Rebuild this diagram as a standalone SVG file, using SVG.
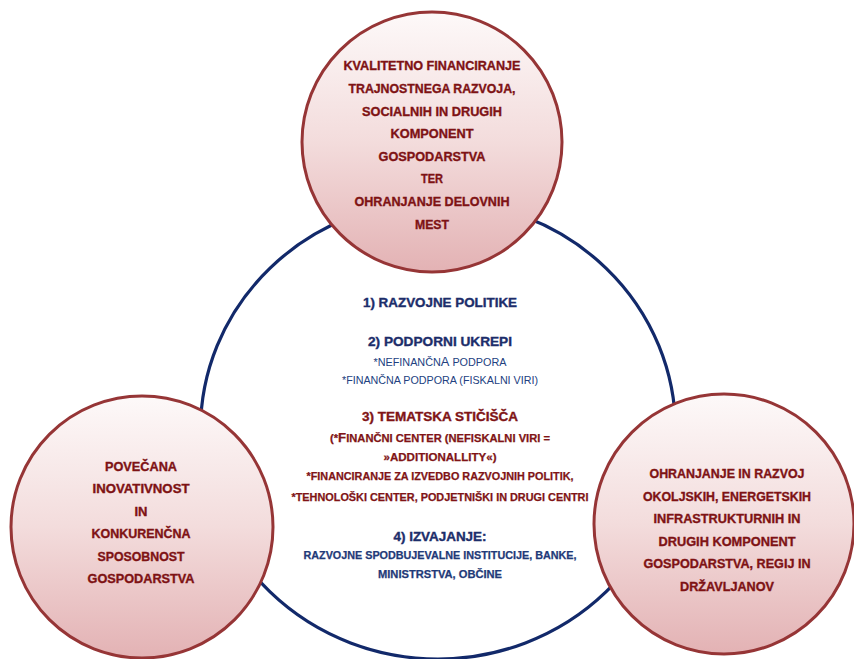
<svg xmlns="http://www.w3.org/2000/svg" width="854" height="659" viewBox="0 0 854 659">
<defs>
<linearGradient id="pink" x1="0" y1="0" x2="0" y2="1">
<stop offset="0" stop-color="#fdf9f9"/>
<stop offset="0.5" stop-color="#f3dcdc"/>
<stop offset="1" stop-color="#e3b2b4"/>
</linearGradient>
</defs>
<style>
.bub{fill:url(#pink);stroke:#963536;stroke-width:3}
.ring{fill:none;stroke:#12296a;stroke-width:3.2}
text{font-family:"Liberation Sans",Arial,sans-serif;text-anchor:middle}
.rd{fill:#7e1214;stroke:#7e1214;stroke-width:0.35;font-weight:bold;font-size:12.5px}
.bh{fill:#1c2d6a;stroke:#1c2d6a;stroke-width:0.35;font-weight:bold;font-size:12.5px}
.bs{fill:#22417f;font-size:10.5px}
.bb{fill:#1f3a78;stroke:#1f3a78;stroke-width:0.25;font-weight:bold;font-size:10.5px}
.rs{fill:#801416;stroke:#801416;stroke-width:0.25;font-weight:bold;font-size:11px}
</style>
<rect width="854" height="659" fill="#ffffff"/>
<g id="connectors">
<ellipse class="ring" cx="438" cy="430" rx="237.5" ry="229"/>
</g>
<g id="node-top">
<circle class="bub" cx="432" cy="142" r="130"/>
<text class="rd" x="432" y="70" textLength="177" lengthAdjust="spacingAndGlyphs">KVALITETNO FINANCIRANJE</text>
<text class="rd" x="432" y="92.5" textLength="167" lengthAdjust="spacingAndGlyphs">TRAJNOSTNEGA RAZVOJA,</text>
<text class="rd" x="432" y="116" textLength="140" lengthAdjust="spacingAndGlyphs">SOCIALNIH IN DRUGIH</text>
<text class="rd" x="432" y="137.5" textLength="83" lengthAdjust="spacingAndGlyphs">KOMPONENT</text>
<text class="rd" x="432" y="160.5" textLength="107" lengthAdjust="spacingAndGlyphs">GOSPODARSTVA</text>
<text class="rd" x="432" y="182.5" textLength="22" lengthAdjust="spacingAndGlyphs">TER</text>
<text class="rd" x="432" y="205.5" textLength="155" lengthAdjust="spacingAndGlyphs">OHRANJANJE DELOVNIH</text>
<text class="rd" x="432" y="228.5" textLength="34" lengthAdjust="spacingAndGlyphs">MEST</text>
</g>
<g id="node-left">
<circle class="bub" cx="142" cy="527" r="131"/>
<text class="rd" x="141" y="470.5" textLength="72" lengthAdjust="spacingAndGlyphs">POVEČANA</text>
<text class="rd" x="141" y="492.5" textLength="97" lengthAdjust="spacingAndGlyphs">INOVATIVNOST</text>
<text class="rd" x="141" y="515.5" textLength="13" lengthAdjust="spacingAndGlyphs">IN</text>
<text class="rd" x="141" y="537.5" textLength="99" lengthAdjust="spacingAndGlyphs">KONKURENČNA</text>
<text class="rd" x="141" y="560.5" textLength="87" lengthAdjust="spacingAndGlyphs">SPOSOBNOST</text>
<text class="rd" x="141" y="582.5" textLength="107" lengthAdjust="spacingAndGlyphs">GOSPODARSTVA</text>
</g>
<g id="node-right">
<circle class="bub" cx="724" cy="524" r="130"/>
<text class="rd" x="727" y="477.5" textLength="155" lengthAdjust="spacingAndGlyphs">OHRANJANJE IN RAZVOJ</text>
<text class="rd" x="727" y="500.5" textLength="168" lengthAdjust="spacingAndGlyphs">OKOLJSKIH, ENERGETSKIH</text>
<text class="rd" x="727" y="522.5" textLength="147" lengthAdjust="spacingAndGlyphs">INFRASTRUKTURNIH IN</text>
<text class="rd" x="727" y="545.5" textLength="137" lengthAdjust="spacingAndGlyphs">DRUGIH KOMPONENT</text>
<text class="rd" x="727" y="567.5" textLength="167" lengthAdjust="spacingAndGlyphs">GOSPODARSTVA, REGIJ IN</text>
<text class="rd" x="727" y="590.5" textLength="94" lengthAdjust="spacingAndGlyphs">DRŽAVLJANOV</text>
</g>
<g id="node-center">
<text class="bh" x="440" y="306.5" textLength="154" lengthAdjust="spacingAndGlyphs">1) RAZVOJNE POLITIKE</text>
<text class="bh" x="440" y="346" textLength="144" lengthAdjust="spacingAndGlyphs">2) PODPORNI UKREPI</text>
<text class="bs" x="440" y="366" textLength="133" lengthAdjust="spacingAndGlyphs">*NEFINANČN<tspan font-size="12.5px">A</tspan> PODPORA</text>
<text class="bs" x="440" y="383.5" textLength="196" lengthAdjust="spacingAndGlyphs">*FINANČNA PODPORA (FISKALNI VIRI)</text>
<text class="bh" x="440" y="421" style="fill:#801416;stroke:#801416" textLength="156" lengthAdjust="spacingAndGlyphs">3) TEMATSKA STIČIŠČA</text>
<text class="rs" x="440" y="442" textLength="220" lengthAdjust="spacingAndGlyphs">(*<tspan font-size="13px">F</tspan>INANČNI CENTER (NEFISKALNI VIRI =</text>
<text class="rs" x="440" y="461" textLength="113" lengthAdjust="spacingAndGlyphs">»ADDITIONALLITY«)</text>
<text class="rs" x="440" y="479.5" textLength="267" lengthAdjust="spacingAndGlyphs">*FINANCIRANJE ZA IZVEDBO RAZVOJNIH POLITIK,</text>
<text class="rs" x="440" y="500.5" textLength="297" lengthAdjust="spacingAndGlyphs">*TEHNOLOŠKI CENTER, PODJETNIŠKI IN DRUGI CENTRI</text>
<text class="bh" x="440" y="541" textLength="93" lengthAdjust="spacingAndGlyphs">4) IZVAJANJE:</text>
<text class="bb" x="440" y="559" textLength="273" lengthAdjust="spacingAndGlyphs">RAZVOJNE SPODBUJEVALNE INSTITUCIJE, BANKE,</text>
<text class="bb" x="440" y="577.5" textLength="124" lengthAdjust="spacingAndGlyphs">MINISTRSTVA, OBČINE</text>
</g>
</svg>
